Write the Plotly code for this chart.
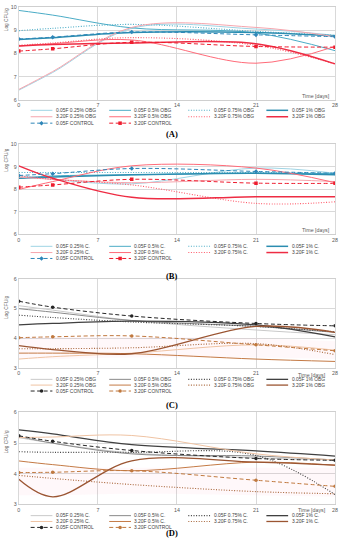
import plotly.graph_objects as go

# ---------------- data ----------------
days = [0, 3, 10, 21, 28]
x_ticks = [0, 7, 14, 21, 28]

series_names_A = ["0.05F 0.25% OBG", "0.05F 0.5% OBG", "0.05F 0.75% OBG", "0.05F 1% OBG",
                  "3.20F 0.25% OBG", "3.20F 0.5% OBG", "3.20F 0.75% OBG", "3.20F 1% OBG",
                  "0.05F CONTROL", "3.20F CONTROL"]
series_names_B = ["0.05F 0.25% C.", "0.05F 0.5% C.", "0.05F 0.75% C.", "0.05F 1% C.",
                  "3.20F 0.25% C.", "3.20F 0.5% C.", "3.20F 0.75% C.", "3.20F 1% C.",
                  "0.05F CONTROL", "3.20F CONTROL"]

# Panel A (OBG, log CFU/g)
A_005_025 = [6.42, 7.18, 9.08, 9.05, 8.78]
A_005_05 = [9.85, 9.65, 9.10, 8.88, 8.12]
A_005_075 = [8.98, 9.08, 9.25, 8.95, 8.78]
A_005_1 = [8.60, 8.68, 8.90, 8.90, 8.75]
A_320_025 = [6.45, 7.22, 9.12, 9.12, 8.72]
A_320_05 = [8.32, 8.42, 8.58, 7.58, 8.30]
A_320_075 = [8.35, 8.45, 8.68, 8.35, 7.55]
A_320_1 = [8.32, 8.38, 8.45, 8.42, 7.55]
A_005_CTRL = [8.62, 8.70, 8.92, 8.80, 8.72]
A_320_CTRL = [8.10, 8.20, 8.48, 8.30, 8.27]

# Panel B (C.)
B_005_025 = [8.62, 8.45, 8.25, 8.95, 8.72]
B_005_05 = [8.50, 8.60, 8.65, 8.72, 8.70]
B_005_075 = [8.75, 8.75, 8.75, 8.75, 8.72]
B_005_1 = [8.50, 8.55, 8.65, 8.72, 8.65]
B_320_025 = [8.55, 8.45, 8.30, 8.45, 8.35]
B_320_05 = [8.00, 8.35, 9.05, 8.95, 8.30]
B_320_075 = [8.60, 8.45, 8.20, 7.38, 7.45]
B_320_1 = [9.05, 8.50, 7.65, 7.68, 7.68]
B_005_CTRL = [8.62, 8.70, 8.93, 8.80, 8.72]
B_320_CTRL = [8.10, 8.20, 8.45, 8.28, 8.27]

# Panel C (OBG, lower level)
C_005_025 = [5.10, 4.95, 4.60, 4.28, 4.12]
C_005_05 = [5.00, 4.88, 4.60, 4.40, 4.20]
C_005_075 = [4.78, 4.70, 4.55, 4.40, 4.22]
C_005_1 = [4.45, 4.50, 4.58, 4.45, 4.05]
C_320_025 = [3.30, 3.38, 3.50, 3.78, 3.60]
C_320_05 = [3.50, 3.50, 3.48, 3.30, 3.22]
C_320_075 = [3.65, 3.65, 3.68, 3.82, 3.45]
C_320_1 = [3.75, 3.62, 3.48, 4.40, 4.20]
C_005_CTRL = [5.25, 5.05, 4.75, 4.50, 4.42]
C_320_CTRL = [4.02, 4.05, 4.08, 3.78, 3.58]
C_band_lo = [3.30, 3.30, 3.35, 3.35, 3.30]
C_band_hi = [4.05, 4.05, 4.05, 4.00, 3.90]

# Panel D (C., lower level)
D_005_025 = [5.18, 5.00, 4.68, 4.52, 4.45]
D_005_05 = [5.22, 5.00, 4.65, 4.58, 4.45]
D_005_075 = [4.72, 4.70, 4.70, 4.60, 3.32]
D_005_1 = [5.43, 5.30, 4.95, 4.75, 4.58]
D_320_025 = [5.18, 5.20, 5.25, 4.65, 4.45]
D_320_05 = [4.42, 4.30, 4.10, 4.38, 4.28]
D_320_075 = [3.95, 3.85, 3.65, 3.42, 3.35]
D_320_1 = [3.82, 3.25, 4.42, 4.38, 4.28]
D_005_CTRL = [5.24, 5.06, 4.76, 4.50, 4.44]
D_320_CTRL = [4.04, 4.05, 4.10, 3.79, 3.59]
D_band_lo = [3.30, 3.30, 3.35, 3.30, 3.25]
D_band_hi = [4.20, 4.20, 4.20, 4.20, 4.20]

panel_labels = ["(A)", "(B)", "(C)", "(D)"]
y_ticks_hi = [6, 7, 8, 9, 10]
y_ticks_lo = [3, 4, 5, 6]

# ---------------- styles ----------------
DOT = "1px,1.6px"
DASH = "4px,2.5px"
style_blue_red = [
    dict(color="#9fd4e4", dash="solid", width=1.0),
    dict(color="#4bacc6", dash="solid", width=1.0),
    dict(color="#4bacc6", dash=DOT, width=1.1),
    dict(color="#2b8db0", dash="solid", width=1.5),
    dict(color="#f6a5ad", dash="solid", width=1.0),
    dict(color="#ff6b79", dash="solid", width=1.0),
    dict(color="#ff5a6a", dash=DOT, width=1.1),
    dict(color="#ee2c43", dash="solid", width=1.5),
    dict(color="#2e86b8", dash=DASH, width=1.0, marker="diamond"),
    dict(color="#ee1c2e", dash=DASH, width=1.0, marker="square"),
]
style_gray_brown = [
    dict(color="#c9c9c9", dash="solid", width=1.0),
    dict(color="#8a8a8a", dash="solid", width=1.0),
    dict(color="#404040", dash=DOT, width=1.1),
    dict(color="#404040", dash="solid", width=1.3),
    dict(color="#efc3a3", dash="solid", width=1.0),
    dict(color="#c47a45", dash="solid", width=1.0),
    dict(color="#a8663a", dash=DOT, width=1.1),
    dict(color="#9b5532", dash="solid", width=1.3),
    dict(color="#262626", dash=DASH, width=1.0, marker="circle"),
    dict(color="#c0793f", dash=DASH, width=1.0, marker="circle"),
]

panels = [
    dict(names=series_names_A, styles=style_blue_red,
         data=[A_005_025, A_005_05, A_005_075, A_005_1, A_320_025, A_320_05, A_320_075, A_320_1, A_005_CTRL, A_320_CTRL],
         yrange=[6, 10], yticks=y_ticks_hi, band=None),
    dict(names=series_names_B, styles=style_blue_red,
         data=[B_005_025, B_005_05, B_005_075, B_005_1, B_320_025, B_320_05, B_320_075, B_320_1, B_005_CTRL, B_320_CTRL],
         yrange=[6, 10], yticks=y_ticks_hi, band=None),
    dict(names=series_names_A, styles=style_gray_brown,
         data=[C_005_025, C_005_05, C_005_075, C_005_1, C_320_025, C_320_05, C_320_075, C_320_1, C_005_CTRL, C_320_CTRL],
         yrange=[3, 6], yticks=y_ticks_lo, band=(C_band_lo, C_band_hi)),
    dict(names=series_names_B, styles=style_gray_brown,
         data=[D_005_025, D_005_05, D_005_075, D_005_1, D_320_025, D_320_05, D_320_075, D_320_1, D_005_CTRL, D_320_CTRL],
         yrange=[3, 6], yticks=y_ticks_lo, band=(D_band_lo, D_band_hi)),
]

# ---------------- layout geometry (pixels) ----------------
W, H = 344, 550
plot_left, plot_right = 18, 338
plot_tops = [4, 143, 279, 414]
plot_bottoms = [98, 234, 369, 507]
legend_rows = [[108.5, 115, 121.5], [246, 252.3, 258.3], [380.5, 386.3, 392.3], [518.3, 524.2, 530.2]]
legend_col_x = [30, 109.5, 189.5, 268.5]
legend_line_len = 22
label_y = [132, 276, 406, 536]
ytitle_y = [16, 158, 307, 443]
time_label = [("in", 94), ("in", 230), ("tick", 376), ("tick", 513)]

FONT = "Liberation Sans"
TXT = "#595959"
TICK_SIZE = 5.3
LEG_SIZE = 4.9

fig = go.Figure()
annotations = []

for p, panel in enumerate(panels):
    xa = "x" if p == 0 else f"x{p+1}"
    ya = "y" if p == 0 else f"y{p+1}"
    if panel["band"] is not None:
        lo, hi = panel["band"]
        fig.add_trace(go.Scatter(x=days, y=lo, mode="lines", line=dict(width=0, shape="spline"),
                                 xaxis=xa, yaxis=ya, showlegend=False, hoverinfo="skip"))
        fig.add_trace(go.Scatter(x=days, y=hi, mode="lines", line=dict(width=0, shape="spline"),
                                 fill="tonexty", fillcolor="rgba(255,120,150,0.05)",
                                 xaxis=xa, yaxis=ya, showlegend=False, hoverinfo="skip"))
    for i, (name, vals) in enumerate(zip(panel["names"], panel["data"])):
        st = panel["styles"][i]
        mk = st.get("marker")
        fig.add_trace(go.Scatter(
            x=days, y=vals, name=name, xaxis=xa, yaxis=ya, showlegend=False,
            mode="lines+markers" if mk else "lines",
            line=dict(color=st["color"], dash=st["dash"], width=st["width"], shape="spline", smoothing=1.0),
            marker=dict(symbol=mk or "circle", size=3.5, color=st["color"]),
        ))
        # legend entries drawn in the pixel overlay axis
        row = i // 4 if i < 8 else 2
        col = i % 4 if i < 8 else i - 8
        lx0 = legend_col_x[col]
        lx1 = lx0 + legend_line_len
        ly = legend_rows[p][row]
        fig.add_trace(go.Scatter(
            x=[lx0, lx1], y=[ly, ly], xaxis="x5", yaxis="y5", mode="lines", showlegend=False,
            hoverinfo="skip",
            line=dict(color=st["color"], dash=st["dash"], width=st["width"]),
        ))
        if mk:
            fig.add_trace(go.Scatter(
                x=[(lx0 + lx1) / 2], y=[ly], xaxis="x5", yaxis="y5", mode="markers", showlegend=False,
                hoverinfo="skip", marker=dict(symbol=mk, size=3.5, color=st["color"]),
            ))
        annotations.append(dict(x=lx1 + 1.5, y=ly, xref="x5", yref="y5", text=name, showarrow=False,
                                xanchor="left", yanchor="middle",
                                font=dict(family=FONT, size=LEG_SIZE, color="#404040")))

    # axes
    ydom = [1 - plot_bottoms[p] / H, 1 - plot_tops[p] / H]
    xkey = "xaxis" if p == 0 else f"xaxis{p+1}"
    ykey = "yaxis" if p == 0 else f"yaxis{p+1}"
    fig.layout[xkey] = dict(domain=[plot_left / W, plot_right / W], anchor=ya, range=[0, 28],
                            tickvals=x_ticks, showgrid=True, gridcolor="#d9d9d9", gridwidth=1,
                            showline=True, mirror=True, linecolor="#cfcfcf", linewidth=1,
                            zeroline=False, ticks="", fixedrange=True, ticklabeloverflow="allow",
                            tickfont=dict(family=FONT, size=TICK_SIZE, color=TXT))
    fig.layout[ykey] = dict(domain=ydom, anchor=xa, range=panel["yrange"], tickvals=panel["yticks"],
                            showgrid=True, gridcolor="#d9d9d9", gridwidth=1,
                            showline=True, mirror=True, linecolor="#d9d9d9", linewidth=1,
                            zeroline=False, ticks="", fixedrange=True, ticklabeloverflow="allow",
                            tickfont=dict(family=FONT, size=TICK_SIZE, color=TXT))

    # panel label
    annotations.append(dict(x=W / 2 + 1, y=label_y[p], xref="x5", yref="y5", text=f"<b>{panel_labels[p]}</b>",
                            showarrow=False, xanchor="center", yanchor="middle",
                            font=dict(family="Liberation Serif", size=8.5, color="#000000")))
    # y title
    annotations.append(dict(x=5.5, y=ytitle_y[p], xref="x5", yref="y5", text="Log CFU/g", textangle=-90,
                            showarrow=False, xanchor="center", yanchor="middle",
                            font=dict(family=FONT, size=4.8, color=TXT)))
    # time label
    kind, ty = time_label[p]
    tx = 335 if kind == "in" else 331
    annotations.append(dict(x=tx, y=ty, xref="x5", yref="y5", text="Time [days]", showarrow=False,
                            xanchor="right", yanchor="middle",
                            font=dict(family=FONT, size=TICK_SIZE, color=TXT)))

# pixel overlay axis for legends / labels
fig.layout["xaxis5"] = dict(domain=[0, 1], range=[0, W], visible=False, fixedrange=True, anchor="y5")
fig.layout["yaxis5"] = dict(domain=[0, 1], range=[H, 0], visible=False, fixedrange=True, anchor="x5")

fig.update_layout(
    width=W, height=H,
    margin=dict(l=0, r=0, t=0, b=0),
    paper_bgcolor="white", plot_bgcolor="rgba(0,0,0,0)",
    showlegend=False,
    annotations=annotations,
    font=dict(family=FONT, size=6, color=TXT),
)

fig.write_html(
    "out.html",
    config={"displayModeBar": False},
    post_script="document.body.style.margin='0';document.body.style.overflow='hidden';",
)
